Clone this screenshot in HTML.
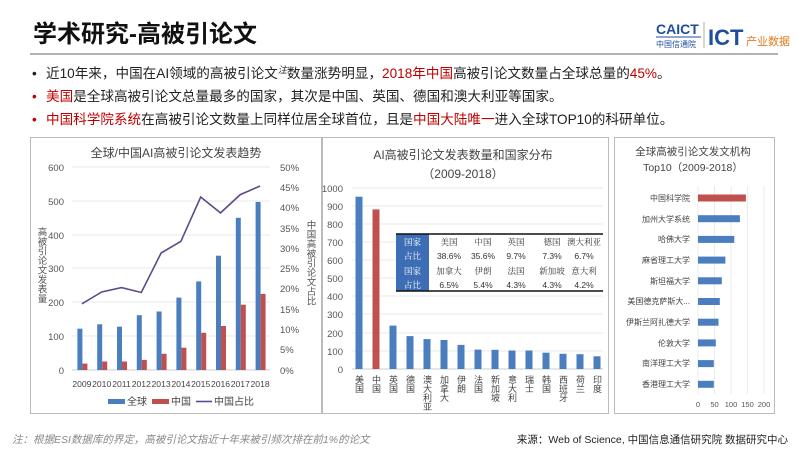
<!DOCTYPE html>
<html><head><meta charset="utf-8"><style>
body{margin:0;background:#fff}
svg{display:block;font-family:"Liberation Sans","Noto Sans CJK SC",sans-serif}
</style></head><body>
<svg width="800" height="450" viewBox="0 0 800 450" xmlns="http://www.w3.org/2000/svg">
<rect width="800" height="450" fill="#fff"/>
<!-- header -->
<text x="33" y="42" font-size="24" font-weight="bold" fill="#111">学术研究-高被引论文</text>
<text x="656" y="34" font-size="14" font-weight="bold" fill="#1f4e9c">CAICT</text>
<line x1="656" y1="37" x2="701" y2="37" stroke="#1f4e9c" stroke-width="1"/>
<text x="656" y="47" font-size="8" fill="#1f4e9c">中国信通院</text>
<line x1="704" y1="22" x2="704" y2="48" stroke="#999" stroke-width="0.8"/>
<text x="708" y="45" font-size="22" font-weight="bold" fill="#1f4e9c">ICT</text>
<text x="746" y="45" font-size="11" fill="#e07b20">产业数据</text>
<line x1="30" y1="54" x2="778" y2="54" stroke="#999" stroke-width="1.5"/>
<g font-size="13.6" fill="#222">
<text x="32" y="78">•</text>
<text x="46" y="78">近10年来，中国在AI领域的高被引论文<tspan font-size="9" dy="-5" font-style="italic">注</tspan><tspan dy="5">数量涨势明显，</tspan><tspan fill="#c00000">2018年中国</tspan>高被引论文数量占全球总量的<tspan fill="#c00000">45%</tspan>。</text>
<text x="32" y="101" fill="#c00000">•</text>
<text x="46" y="101"><tspan fill="#c00000">美国</tspan>是全球高被引论文总量最多的国家，其次是中国、英国、德国和澳大利亚等国家。</text>
<text x="32" y="124" fill="#c00000">•</text>
<text x="46" y="124"><tspan fill="#c00000">中国科学院系统</tspan>在高被引论文数量上同样位居全球首位，且是<tspan fill="#c00000">中国大陆唯一</tspan>进入全球TOP10的科研单位。</text>
</g>
<!-- panels -->
<rect x="30.5" y="137.5" width="291" height="276" fill="none" stroke="#bbb"/>
<rect x="322.5" y="137.5" width="286" height="276" fill="none" stroke="#bbb"/>
<rect x="614.5" y="137.5" width="160" height="276" fill="none" stroke="#bbb"/>

<!-- chart 1 -->
<text x="176" y="157" font-size="12" fill="#444" text-anchor="middle">全球/中国AI高被引论文发表趋势</text>
<g stroke="#e3e3e3" stroke-width="0.8">
<line x1="72" y1="167" x2="270" y2="167"/><line x1="72" y1="201" x2="270" y2="201"/><line x1="72" y1="235" x2="270" y2="235"/><line x1="72" y1="268" x2="270" y2="268"/><line x1="72" y1="302" x2="270" y2="302"/><line x1="72" y1="336" x2="270" y2="336"/>
</g>
<line x1="72" y1="370" x2="270" y2="370" stroke="#ccc"/>
<g font-size="9.5" fill="#555" text-anchor="end">
<text x="64" y="171">600</text><text x="64" y="205">500</text><text x="64" y="239">400</text><text x="64" y="272">300</text><text x="64" y="306">200</text><text x="64" y="340">100</text><text x="64" y="374">0</text>
</g>
<g font-size="9.5" fill="#555">
<text x="280" y="171">50%</text><text x="280" y="191">45%</text><text x="280" y="211">40%</text><text x="280" y="232">35%</text><text x="280" y="252">30%</text><text x="280" y="272">25%</text><text x="280" y="292">20%</text><text x="280" y="313">15%</text><text x="280" y="333">10%</text><text x="280" y="353">5%</text><text x="280" y="374">0%</text>
</g>
<text font-size="9.5" fill="#555" style="writing-mode:vertical-rl" x="41" y="227">高被引论文发表量</text>
<text font-size="9.5" fill="#555" style="writing-mode:vertical-rl" x="310" y="220">中国高被引论文占比</text>
<g fill="#4a7ebf">
<rect x="77.4" y="328.7" width="5" height="41.3"/><rect x="97.2" y="324.3" width="5" height="45.7"/><rect x="117" y="326.7" width="5" height="43.3"/><rect x="136.8" y="315.2" width="5" height="54.8"/><rect x="156.6" y="311.5" width="5" height="58.5"/><rect x="176.4" y="297.6" width="5" height="72.4"/><rect x="196.2" y="281.4" width="5" height="88.6"/><rect x="216" y="255.7" width="5" height="114.3"/><rect x="235.8" y="217.8" width="5" height="152.2"/><rect x="255.6" y="201.9" width="5" height="168.1"/>
</g>
<g fill="#c0504d">
<rect x="82.4" y="363.6" width="5" height="6.4"/><rect x="102.2" y="361.5" width="5" height="8.5"/><rect x="122" y="361.5" width="5" height="8.5"/><rect x="141.8" y="359.9" width="5" height="10.1"/><rect x="161.6" y="353.8" width="5" height="16.2"/><rect x="181.4" y="347.7" width="5" height="22.3"/><rect x="201.2" y="332.8" width="5" height="37.2"/><rect x="221" y="326" width="5" height="44"/><rect x="240.8" y="304.7" width="5" height="65.3"/><rect x="260.6" y="293.9" width="5" height="76.1"/>
</g>
<polyline fill="none" stroke="#5e4a8a" stroke-width="1.6" points="81.9,303.8 101.7,292 121.5,287.6 141.3,292.5 161.1,253 180.9,241.3 200.7,197 220.5,212.9 240.3,194.6 260.1,186"/>
<g font-size="8.6" fill="#444" text-anchor="middle">
<text x="81.9" y="387">2009</text><text x="101.7" y="387">2010</text><text x="121.5" y="387">2011</text><text x="141.3" y="387">2012</text><text x="161.1" y="387">2013</text><text x="180.9" y="387">2014</text><text x="200.7" y="387">2015</text><text x="220.5" y="387">2016</text><text x="240.3" y="387">2017</text><text x="260.1" y="387">2018</text>
</g>
<g font-size="10" fill="#444">
<rect x="108" y="399" width="17" height="5" fill="#4a7ebf"/><text x="127" y="405">全球</text>
<rect x="152" y="399" width="17" height="5" fill="#c0504d"/><text x="171" y="405">中国</text>
<line x1="196" y1="401.5" x2="212" y2="401.5" stroke="#5e4a8a" stroke-width="1.6"/><text x="214" y="405">中国占比</text>
</g>

<!-- chart 2 -->
<text x="463" y="159" font-size="12" fill="#444" text-anchor="middle">AI高被引论文发表数量和国家分布</text>
<text x="463" y="178" font-size="12" fill="#444" text-anchor="middle">（2009-2018）</text>
<g stroke="#e3e3e3" stroke-width="0.8">
<line x1="352" y1="188" x2="603" y2="188"/><line x1="352" y1="206" x2="603" y2="206"/><line x1="352" y1="224" x2="603" y2="224"/><line x1="352" y1="242" x2="603" y2="242"/><line x1="352" y1="260" x2="603" y2="260"/><line x1="352" y1="278" x2="603" y2="278"/><line x1="352" y1="296" x2="603" y2="296"/><line x1="352" y1="314" x2="603" y2="314"/><line x1="352" y1="333" x2="603" y2="333"/><line x1="352" y1="351" x2="603" y2="351"/>
</g>
<line x1="352" y1="369" x2="603" y2="369" stroke="#ccc"/>
<g font-size="9.5" fill="#555" text-anchor="end">
<text x="343" y="192">1000</text><text x="343" y="210">900</text><text x="343" y="228">800</text><text x="343" y="246">700</text><text x="343" y="264">600</text><text x="343" y="282">500</text><text x="343" y="300">400</text><text x="343" y="318">300</text><text x="343" y="337">200</text><text x="343" y="355">100</text><text x="343" y="373">0</text>
</g>
<g fill="#4a7ebf">
<rect x="355.5" y="196.7" width="7" height="172.3"/>
<rect x="389.5" y="325.6" width="7" height="43.4"/><rect x="406.5" y="336.1" width="7" height="32.9"/><rect x="423.5" y="339.1" width="7" height="29.9"/><rect x="440.5" y="340" width="7" height="29"/><rect x="457.5" y="344.9" width="7" height="24.1"/><rect x="474.5" y="349.6" width="7" height="19.4"/><rect x="491.5" y="349.8" width="7" height="19.2"/><rect x="508.5" y="350.5" width="7" height="18.5"/><rect x="525.5" y="350.5" width="7" height="18.5"/><rect x="542.5" y="352.7" width="7" height="16.3"/><rect x="559.5" y="353.8" width="7" height="15.2"/><rect x="576.5" y="354.2" width="7" height="14.8"/><rect x="593.5" y="356.3" width="7" height="12.7"/>
</g>
<rect x="372.5" y="209.4" width="7" height="159.6" fill="#c0504d"/>
<g font-size="9" fill="#444" style="writing-mode:vertical-rl">
<text x="359" y="375">美国</text><text x="376" y="375">中国</text><text x="393" y="375">英国</text><text x="410" y="375">德国</text><text x="427" y="375">澳大利亚</text><text x="444" y="375">加拿大</text><text x="461" y="375">伊朗</text><text x="478" y="375">法国</text><text x="495" y="375">新加坡</text><text x="512" y="375">意大利</text><text x="529" y="375">瑞士</text><text x="546" y="375">韩国</text><text x="563" y="375">西班牙</text><text x="580" y="375">荷兰</text><text x="597" y="375">印度</text>
</g>
<!-- table -->
<rect x="396" y="234" width="207" height="57" fill="#fff"/>
<rect x="396" y="234" width="33" height="57" fill="#3d6db5"/>
<line x1="396" y1="234" x2="603" y2="234" stroke="#111" stroke-width="1.5"/>
<line x1="396" y1="291" x2="603" y2="291" stroke="#111" stroke-width="1.5"/>
<g font-size="8.5" fill="#fff" text-anchor="middle" font-family="'Liberation Serif','Noto Serif CJK SC',serif">
<text x="412.5" y="245">国家</text><text x="412.5" y="259">占比</text><text x="412.5" y="274">国家</text><text x="412.5" y="288">占比</text>
</g>
<g font-size="8.5" fill="#333" text-anchor="middle">
<g font-family="'Liberation Serif','Noto Serif CJK SC',serif"><text x="449" y="245">美国</text><text x="483" y="245">中国</text><text x="516" y="245">英国</text><text x="552" y="245">德国</text><text x="584" y="245">澳大利亚</text>
<text x="449" y="274">加拿大</text><text x="483" y="274">伊朗</text><text x="516" y="274">法国</text><text x="552" y="274">新加坡</text><text x="584" y="274">意大利</text></g>
<text x="449" y="259">38.6%</text><text x="483" y="259">35.6%</text><text x="516" y="259">9.7%</text><text x="552" y="259">7.3%</text><text x="584" y="259">6.7%</text>
<text x="449" y="288">6.5%</text><text x="483" y="288">5.4%</text><text x="516" y="288">4.3%</text><text x="552" y="288">4.3%</text><text x="584" y="288">4.2%</text>
</g>

<!-- chart 3 -->
<text x="693" y="155" font-size="10.5" fill="#444" text-anchor="middle">全球高被引论文发文机构</text>
<text x="693" y="171" font-size="10.5" fill="#444" text-anchor="middle">Top10（2009-2018）</text>
<g stroke="#e6e6e6" stroke-width="0.8">
<line x1="698" y1="186" x2="698" y2="394"/><line x1="714.5" y1="186" x2="714.5" y2="394"/><line x1="731" y1="186" x2="731" y2="394"/><line x1="747.5" y1="186" x2="747.5" y2="394"/><line x1="764" y1="186" x2="764" y2="394"/>
</g>
<rect x="698" y="194.5" width="47.9" height="7" fill="#c0504d"/>
<g fill="#4a7ebf">
<rect x="698" y="215.2" width="41.9" height="7"/><rect x="698" y="235.9" width="36.3" height="7"/><rect x="698" y="256.6" width="27.4" height="7"/><rect x="698" y="277.3" width="23.8" height="7"/><rect x="698" y="298" width="21.8" height="7"/><rect x="698" y="318.7" width="20.5" height="7"/><rect x="698" y="339.4" width="17.8" height="7"/><rect x="698" y="360.1" width="15.8" height="7"/><rect x="698" y="380.8" width="15.8" height="7"/>
</g>
<g font-size="8" fill="#444" text-anchor="end">
<text x="690" y="201">中国科学院</text><text x="690" y="222">加州大学系统</text><text x="690" y="242">哈佛大学</text><text x="690" y="263">麻省理工大学</text><text x="690" y="284">斯坦福大学</text><text x="690" y="304">美国德克萨斯大...</text><text x="690" y="325">伊斯兰阿扎德大学</text><text x="690" y="346">伦敦大学</text><text x="690" y="366">南洋理工大学</text><text x="690" y="387">香港理工大学</text>
</g>
<g font-size="7.5" fill="#555" text-anchor="middle">
<text x="698" y="407">0</text><text x="714.5" y="407">50</text><text x="731" y="407">100</text><text x="747.5" y="407">150</text><text x="764" y="407">200</text>
</g>

<!-- footer -->
<text x="12" y="443" font-size="10.5" fill="#888" font-style="italic">注：根据ESI数据库的界定，高被引论文指近十年来被引频次排在前1%的论文</text>
<text x="788" y="443" font-size="10.5" fill="#222" text-anchor="end">来源：Web of Science, 中国信息通信研究院 数据研究中心</text>
</svg>
</body></html>
